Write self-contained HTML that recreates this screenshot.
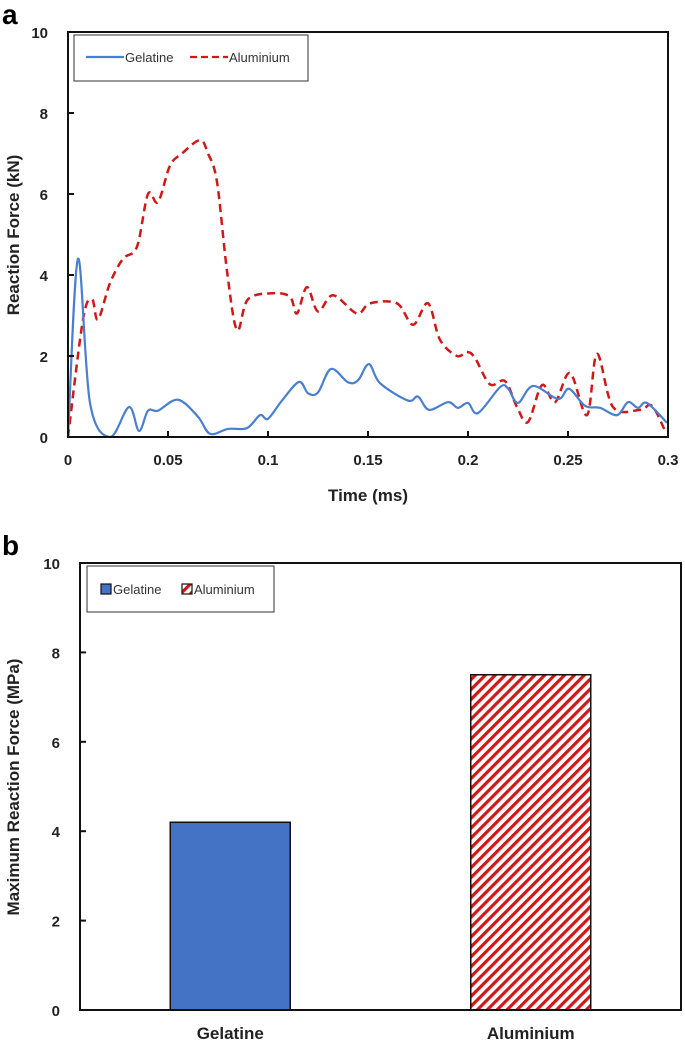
<!DOCTYPE html>
<html><head><meta charset="utf-8"><style>
body{margin:0;background:#fff;}
svg{display:block;font-family:"Liberation Sans",sans-serif;}
</style></head><body>
<svg id="fig" width="685" height="1045" viewBox="0 0 685 1045">
<defs>
<pattern id="hatch" patternUnits="userSpaceOnUse" width="7" height="7" patternTransform="rotate(45)">
<rect width="7" height="7" fill="#fff"/><rect width="3.2" height="7" fill="#d01818"/>
</pattern>
</defs>
<text x="2" y="24" font-size="28" font-weight="bold">a</text>
<text x="2" y="555" font-size="28" font-weight="bold">b</text>
<g id="ga"></g>
<g id="gb"></g>
</svg>
<script>
const NS="http://www.w3.org/2000/svg";
// ---- chart a data ----
const gelT=[0,0.005,0.011,0.021,0.0305,0.0355,0.04,0.045,0.055,0.065,0.071,0.08,0.0895,0.096,0.1,0.107,0.1155,0.12,0.125,0.1315,0.14,0.145,0.1505,0.156,0.17,0.175,0.1805,0.19,0.195,0.2,0.205,0.216,0.22,0.225,0.2325,0.245,0.2505,0.2585,0.266,0.2745,0.28,0.285,0.2895,0.2995];
const gelV=[0,4.4,0.84,0,0.74,0.15,0.65,0.65,0.92,0.5,0.08,0.2,0.22,0.54,0.45,0.9,1.36,1.08,1.1,1.68,1.35,1.4,1.8,1.33,0.9,1.0,0.67,0.86,0.72,0.84,0.59,1.23,1.2,0.84,1.26,0.94,1.19,0.77,0.72,0.54,0.86,0.72,0.84,0.35];
const alT=[0,0.0075,0.012,0.015,0.021,0.0275,0.0345,0.04,0.045,0.051,0.057,0.066,0.07,0.0745,0.0795,0.0845,0.09,0.1025,0.111,0.1145,0.1195,0.125,0.1325,0.1445,0.151,0.1645,0.1725,0.18,0.186,0.1945,0.1995,0.2035,0.211,0.2185,0.2245,0.23,0.237,0.2435,0.251,0.2595,0.2645,0.2725,0.286,0.292,0.299];
const alV=[0,2.9,3.4,2.9,3.8,4.4,4.7,6.0,5.8,6.7,7.0,7.33,7.0,6.3,4.1,2.64,3.4,3.55,3.46,3.05,3.7,3.1,3.5,3.05,3.3,3.3,2.77,3.3,2.4,2.0,2.1,1.95,1.3,1.38,0.74,0.37,1.28,0.86,1.58,0.54,2.05,0.74,0.67,0.77,0.1];
const xTicksA=[0,0.05,0.1,0.15,0.2,0.25,0.3];
const yTicksA=[0,2,4,6,8,10];
// ---- chart b data ----
const barCats=["Gelatine","Aluminium"];
const barVals=[4.2,7.5];
const yTicksB=[0,2,4,6,8,10];

function el(tag,attrs,parent,txt){const e=document.createElementNS(NS,tag);for(const k in attrs)e.setAttribute(k,attrs[k]);if(txt!==undefined)e.textContent=txt;parent.appendChild(e);return e;}

// Chart A
const ga=document.getElementById('ga');
const AX0=68,AX1=668,AY0=437,AY1=32;
const xA=t=>AX0+(t/0.3)*(AX1-AX0);
const yA=v=>AY0-(v/10)*(AY0-AY1);
function smooth(xs,ys){const p=xs.map((t,i)=>[xA(t),yA(ys[i])]);let d=`M${p[0][0]},${p[0][1]}`;
for(let i=0;i<p.length-1;i++){const p0=p[Math.max(0,i-1)],p1=p[i],p2=p[i+1],p3=p[Math.min(p.length-1,i+2)];
d+=` C${p1[0]+(p2[0]-p0[0])/6},${p1[1]+(p2[1]-p0[1])/6} ${p2[0]-(p3[0]-p1[0])/6},${p2[1]-(p3[1]-p1[1])/6} ${p2[0]},${p2[1]}`;}return d;}
const la=el('path',{d:smooth(alT,alV),fill:'none',stroke:'#d01818','stroke-width':2.5,'stroke-dasharray':'8,5'},ga);


const lg=el('path',{d:smooth(gelT,gelV),fill:'none',stroke:'#4a7fd0','stroke-width':2.2},ga);


const fa=el('rect',{x:AX0,y:AY1,width:AX1-AX0,height:AY0-AY1,fill:'none',stroke:'#111','stroke-width':2},ga);


xTicksA.forEach(t=>{el('line',{x1:xA(t),x2:xA(t),y1:AY0,y2:AY0-6,stroke:'#111','stroke-width':2},ga);
const tx=el('text',{x:xA(t),y:AY0+28,'font-size':15,'font-weight':'bold','text-anchor':'middle',fill:'#222'},ga,String(t));

});
yTicksA.forEach(v=>{el('line',{x1:AX0,x2:AX0+6,y1:yA(v),y2:yA(v),stroke:'#111','stroke-width':2},ga);
const tx=el('text',{x:AX0-20,y:yA(v)+6,'font-size':15,'font-weight':'bold','text-anchor':'end',fill:'#222'},ga,String(v));

});
const xt=el('text',{x:368,y:501,'font-size':17,'font-weight':'bold','text-anchor':'middle',fill:'#222'},ga,'Time (ms)');


const yt=el('text',{x:0,y:0,'font-size':17,'font-weight':'bold','text-anchor':'middle',fill:'#222',transform:'translate(19,235) rotate(-90)'},ga,'Reaction Force (kN)');


const lgA=el('g',{},ga);


el('rect',{x:74,y:35,width:234,height:46,fill:'#fff',stroke:'#333','stroke-width':1},lgA);
el('line',{x1:86,x2:124,y1:57,y2:57,stroke:'#4a7fd0','stroke-width':2.2},lgA);
el('text',{x:125,y:62,'font-size':13,fill:'#333'},lgA,'Gelatine');
el('line',{x1:190,x2:228,y1:57,y2:57,stroke:'#d01818','stroke-width':2.2,'stroke-dasharray':'7,4'},lgA);
el('text',{x:229,y:62,'font-size':13,fill:'#333'},lgA,'Aluminium');

// Chart B
const gb=document.getElementById('gb');
const BX0=80,BX1=681,BY0=1010,BY1=563;
const yB=v=>BY0-(v/10)*(BY0-BY1);
const band=(BX1-BX0)/barCats.length, bw=120;
const fills=['#4472c4','url(#hatch)'];
barCats.forEach((c,i)=>{const cx=BX0+band*(i+0.5);
const r=el('rect',{x:cx-bw/2,y:yB(barVals[i]),width:bw,height:BY0-yB(barVals[i]),fill:fills[i],stroke:'#111','stroke-width':1.5},gb);


const t=el('text',{x:cx,y:BY0+29,'font-size':17,'font-weight':'bold','text-anchor':'middle',fill:'#222'},gb,c);

});
const fb=el('rect',{x:BX0,y:BY1,width:BX1-BX0,height:BY0-BY1,fill:'none',stroke:'#111','stroke-width':2},gb);


yTicksB.forEach(v=>{el('line',{x1:BX0,x2:BX0+6,y1:yB(v),y2:yB(v),stroke:'#111','stroke-width':2},gb);
const tx=el('text',{x:BX0-20,y:yB(v)+6,'font-size':15,'font-weight':'bold','text-anchor':'end',fill:'#222'},gb,String(v));

});
const ytb=el('text',{x:0,y:0,'font-size':17,'font-weight':'bold','text-anchor':'middle',fill:'#222',transform:'translate(19,787) rotate(-90)'},gb,'Maximum Reaction Force (MPa)');


const lgB=el('g',{},gb);


el('rect',{x:87,y:566,width:187,height:46,fill:'#fff',stroke:'#333','stroke-width':1},lgB);
el('rect',{x:101,y:584,width:10,height:10,fill:'#4472c4',stroke:'#111','stroke-width':1.2},lgB);
el('text',{x:113,y:594,'font-size':13,fill:'#333'},lgB,'Gelatine');
el('rect',{x:182,y:584,width:10,height:10,fill:'url(#hatch)',stroke:'#111','stroke-width':1.2},lgB);
el('text',{x:194,y:594,'font-size':13,fill:'#333'},lgB,'Aluminium');
</script>
</body></html>
